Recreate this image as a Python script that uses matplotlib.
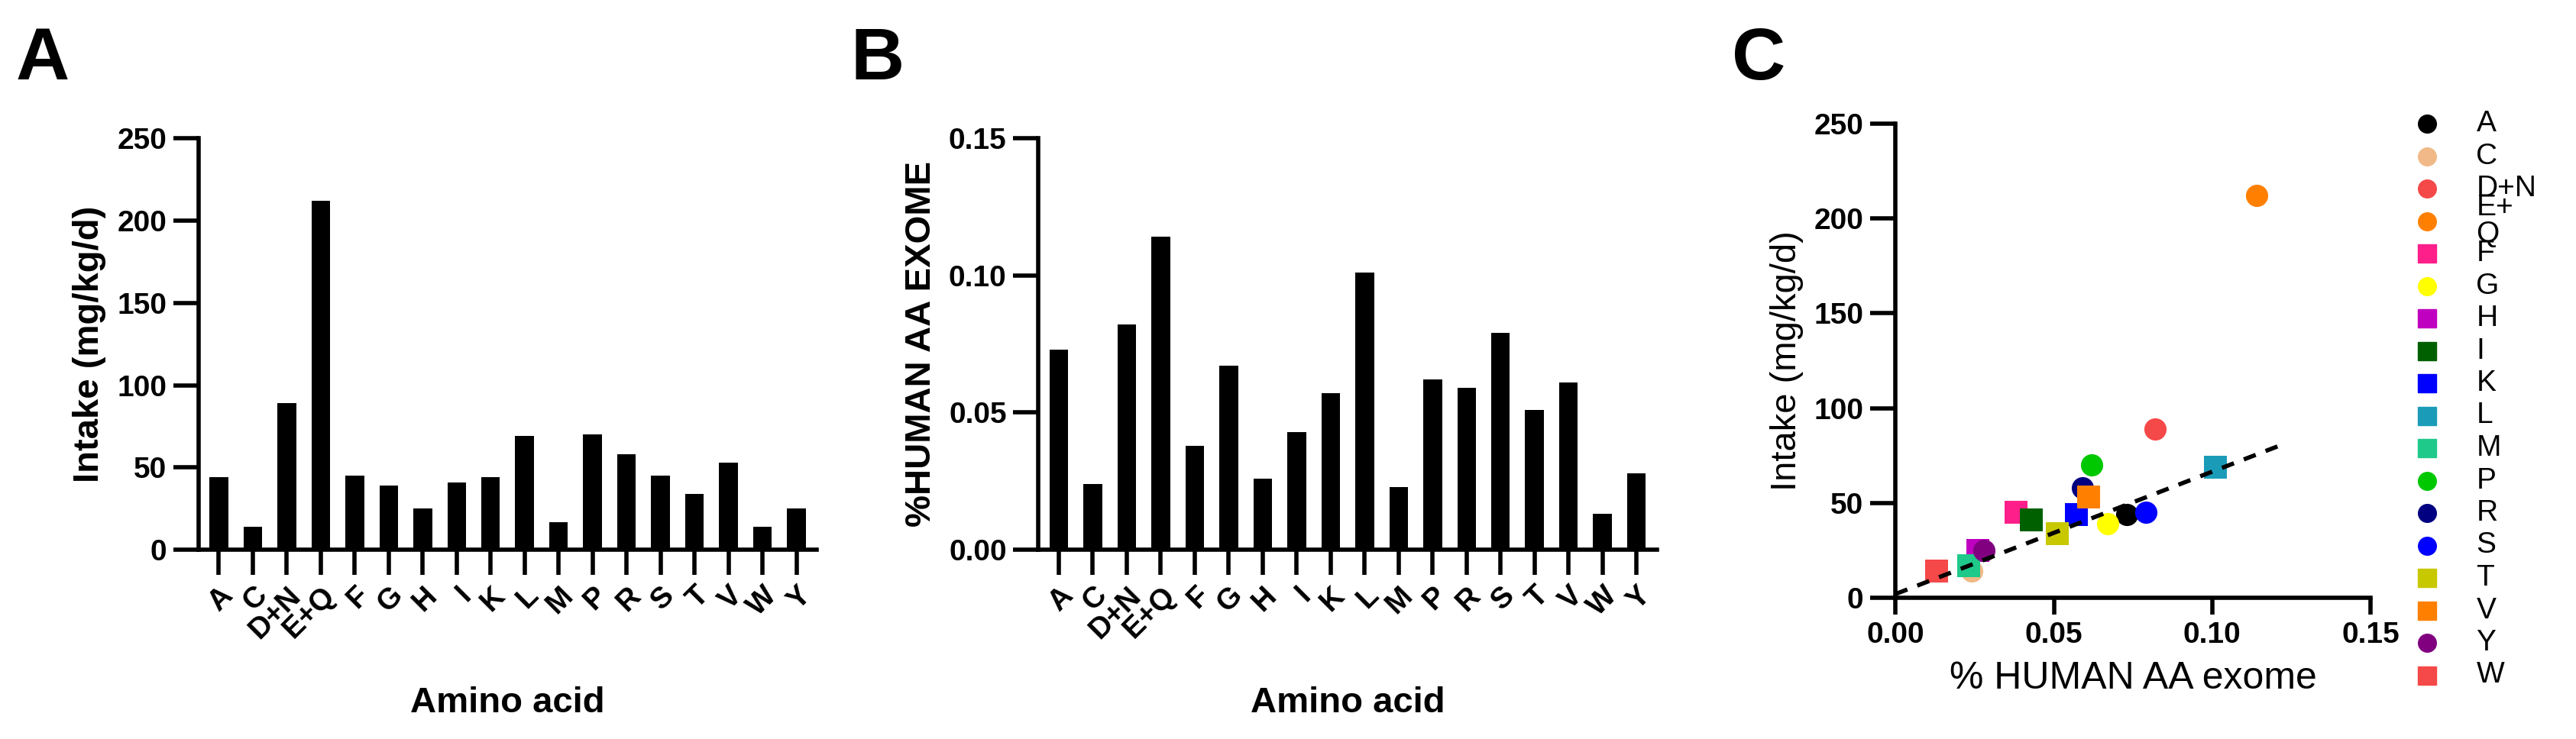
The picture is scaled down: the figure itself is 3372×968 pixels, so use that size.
import numpy as np
import matplotlib
matplotlib.use("Agg")
from matplotlib import pyplot as plt

plt.rcParams['font.family'] = ['Liberation Sans', 'DejaVu Sans']

# data
aminoAcids = ["A", "C", "D+N", "E+Q", "F", "G", "H", "I", "K", "L", "M", "P", "R", "S", "T", "V", "W", "Y"]
intake = [44, 14, 89, 212, 45, 39, 25, 41, 44, 69, 17, 70, 58, 45, 34, 53, 14, 25]
exome = [0.073, 0.024, 0.082, 0.114, 0.038, 0.067, 0.026, 0.043, 0.057, 0.101,
         0.023, 0.062, 0.059, 0.079, 0.051, 0.061, 0.013, 0.028]

# legend order / styles for panel C
legendKeys = ["A", "C", "D+N", "E+Q", "F", "G", "H", "I", "K", "L", "M", "P", "R", "S", "T", "V", "Y", "W"]
legendLabels = ["A", "C", "D+N", "E+\nQ", "F", "G", "H", "I", "K", "L", "M", "P", "R", "S", "T", "V", "Y", "W"]
colors = {"A": "#000000", "C": "#f0b987", "D+N": "#f54848", "E+Q": "#ff8000", "F": "#ff1f8a",
          "G": "#ffff00", "H": "#c000c0", "I": "#006000", "K": "#0000ff", "L": "#1a9cb8",
          "M": "#1fc98a", "P": "#00c800", "R": "#000080", "S": "#0000ff", "T": "#c8c800",
          "V": "#ff8000", "Y": "#800080", "W": "#f54848"}
markers = {"A": "o", "C": "o", "D+N": "o", "E+Q": "o", "F": "s", "G": "o", "H": "s", "I": "s",
           "K": "s", "L": "s", "M": "s", "P": "o", "R": "o", "S": "o", "T": "s", "V": "s",
           "Y": "o", "W": "s"}
fitIntercept = 2.0
fitSlope = 645.0
fitXmax = 0.122

fig = plt.figure(figsize=(33.73, 9.68), dpi=100)
axA = fig.add_axes([0.077, 0.256, 0.240, 0.557])
axB = fig.add_axes([0.403, 0.256, 0.240, 0.557])
axC = fig.add_axes([0.7356, 0.191, 0.1844, 0.642])


def styleAxes(ax):
    ax.spines["top"].set_visible(False)
    ax.spines["right"].set_visible(False)
    for s in ("left", "bottom"):
        ax.spines[s].set_linewidth(4)
    ax.tick_params(width=4, length=24, pad=6)


def barPanel(ax, vals, ylabel, ylim, ticks, fmt):
    x = np.arange(len(aminoAcids))
    ax.bar(x, vals, width=0.55, color="black")
    ax.set_xlim(-0.6, len(aminoAcids) - 0.4)
    ax.set_ylim(*ylim)
    ax.set_yticks(ticks)
    ax.set_yticklabels([fmt.format(t) for t in ticks], fontsize=28, fontweight="bold")
    ax.set_xticks(x)
    ax.set_xticklabels(aminoAcids, rotation=45, ha="right", rotation_mode="anchor",
                       fontsize=28, fontweight="bold")
    ax.set_ylabel(ylabel, fontsize=34, fontweight="bold", labelpad=10)
    ax.set_xlabel("Amino acid", fontsize=34, fontweight="bold", labelpad=40)
    styleAxes(ax)


barPanel(axA, intake, "Intake (mg/kg/d)", (0, 250), [0, 50, 100, 150, 200, 250], "{:g}")
barPanel(axB, exome, "%HUMAN AA EXOME", (0, 0.15), [0, 0.05, 0.10, 0.15], "{:.2f}")

# panel C
for key in legendKeys:
    i = aminoAcids.index(key)
    axC.scatter(exome[i], intake[i], s=440, marker=markers[key], color=colors[key],
                linewidths=0, zorder=3, clip_on=False)
fx = np.array([0, fitXmax])
axC.plot(fx, fitIntercept + fitSlope * fx, color="black", ls=(0, (3, 2.5)), lw=4, zorder=4)
axC.set_xlim(0, 0.15)
axC.set_ylim(0, 250)
axC.set_xticks([0, 0.05, 0.10, 0.15])
axC.set_xticklabels(["0.00", "0.05", "0.10", "0.15"], fontsize=28, fontweight="bold")
axC.set_yticks([0, 50, 100, 150, 200, 250])
axC.set_yticklabels(["0", "50", "100", "150", "200", "250"], fontsize=28, fontweight="bold")
axC.set_xlabel("% HUMAN AA exome", fontsize=36, labelpad=12)
axC.set_ylabel("Intake (mg/kg/d)", fontsize=34, labelpad=10)
styleAxes(axC)
axC.tick_params(axis="x", length=16)

# legend drawn by hand so the rows match the original spacing
rowTop = 1 - 162 / 968
rowStep = 42.5 / 968
for j, (key, lab) in enumerate(zip(legendKeys, legendLabels)):
    y = rowTop - j * rowStep
    fig.add_artist(plt.Line2D([0.942], [y], transform=fig.transFigure, ls="",
                              marker=markers[key], color=colors[key], markersize=17))
    fig.text(0.961, y, lab, fontsize=28, va="center", ha="left", linespacing=0.95)

for letter, xpos in (("A", 0.006), ("B", 0.330), ("C", 0.672)):
    fig.text(xpos, 0.965, letter, fontsize=70, fontweight="bold", va="top")

fig.savefig("out.png", dpi=100)
